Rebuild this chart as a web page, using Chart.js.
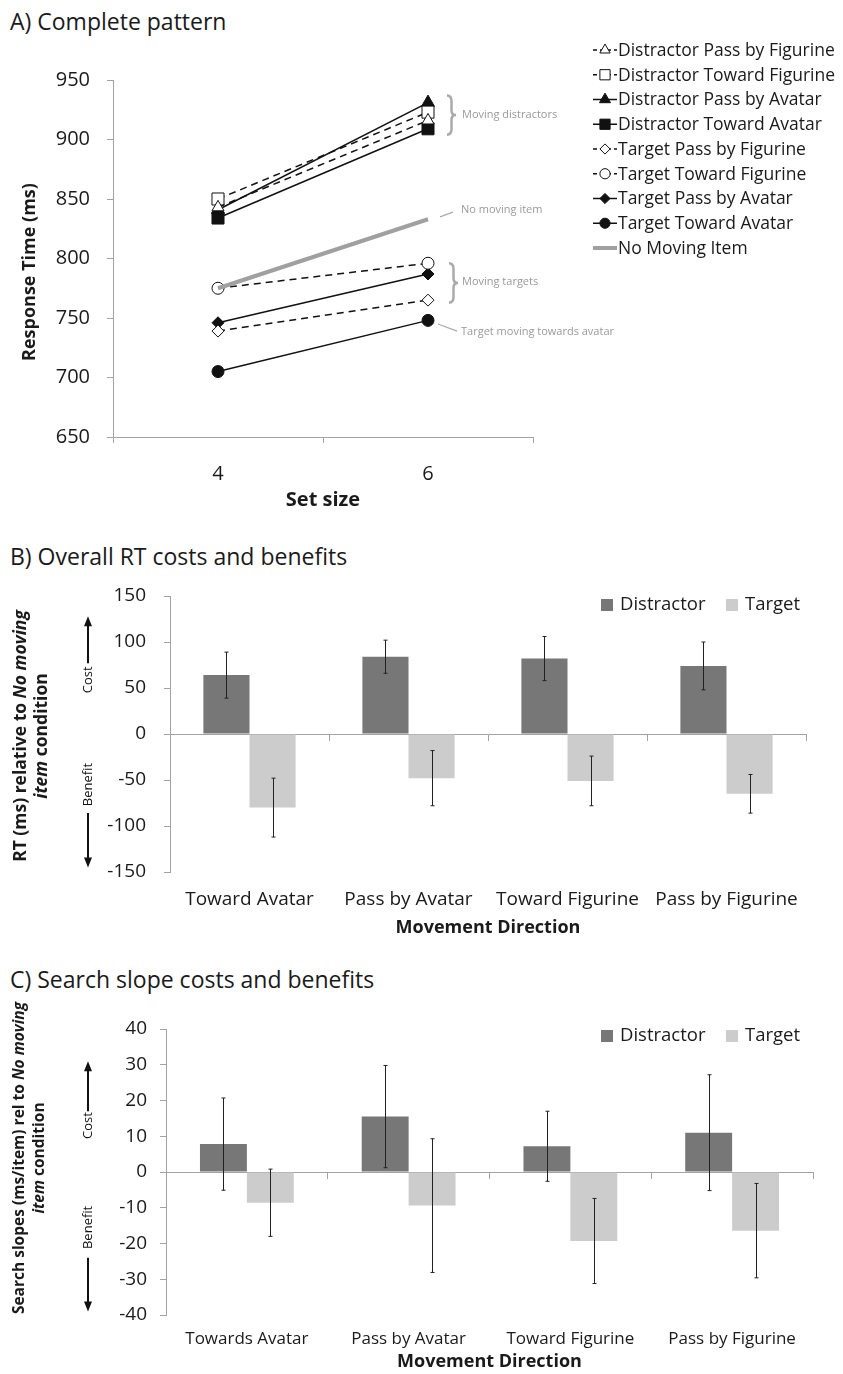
<!DOCTYPE html>
<html>
<head>
<meta charset="utf-8">
<script src="https://cdn.jsdelivr.net/npm/chart.js@4.4.1/dist/chart.umd.min.js"></script>
<style>
  body { margin: 0; background: #fff; width: 843px; height: 1374px; position: relative; overflow: hidden; font-family: 'Open Sans', sans-serif; }
  .ttl { position: absolute; left: 10px; font-size: 23px; line-height: 27px; color: #1a1a1a; white-space: nowrap; }
  canvas { position: absolute; left: 0; }
</style>
</head>
<body>
<div class="ttl" style="top:8px">A) Complete pattern</div>
<canvas id="chartA" width="843" height="530" style="top:0px"></canvas>
<div class="ttl" style="top:543px">B) Overall RT costs and benefits</div>
<canvas id="chartB" width="843" height="410" style="top:540px"></canvas>
<div class="ttl" style="top:966px">C) Search slope costs and benefits</div>
<canvas id="chartC" width="843" height="414" style="top:960px"></canvas>
<script>
// panel A - response times by set size
const setSizes = ['4', '6'];
const distPassFig = [843, 916];
const distTowardFig = [850, 923];
const distPassAv = [841, 931];
const distTowardAv = [834, 909];
const targPassFig = [739, 765];
const targTowardFig = [775, 796];
const targPassAv = [746, 787];
const targTowardAv = [705, 748];
const noMoving = [775, 833];

// panel B - RT relative to no moving item
const directionsB = ['Toward Avatar', 'Pass by Avatar', 'Toward Figurine', 'Pass by Figurine'];
const rtDistractor = [64, 84, 82, 74];
const rtTarget = [-80, -48, -51, -65];
const rtDistractorErr = [25, 18, 24, 26];
const rtTargetErr = [32, 30, 27, 21];

// panel C - search slopes relative to no moving item
const directionsC = ['Towards Avatar', 'Pass by Avatar', 'Toward Figurine', 'Pass by Figurine'];
const slopeDistractor = [7.8, 15.5, 7.2, 11];
const slopeTarget = [-8.6, -9.4, -19.3, -16.4];
const slopeDistractorErr = [12.9, 14.3, 9.8, 16.2];
const slopeTargetErr = [9.4, 18.7, 11.9, 13.2];

const ink = '#1a1a1a';
const axisGray = '#a3a3a3';
const noteGray = '#9a9a9a';
const darkBar = '#777777';
const lightBar = '#cbcccb';
const FAM = "'Open Sans', sans-serif";
Chart.defaults.font.family = FAM;

function lineSet(label, data, style, filled, dashed, r) {
    return {
        label: label, data: data, borderColor: '#111', borderWidth: 1.5,
        borderDash: dashed ? [7, 5] : [], pointStyle: style, pointRadius: r,
        pointBackgroundColor: filled ? '#111' : '#fff', pointBorderColor: '#111',
        pointBorderWidth: 1, order: 1
    };
}

const datasetsA = [
    lineSet('Distractor Pass by Figurine', distPassFig, 'triangle', false, true, 7),
    lineSet('Distractor Toward Figurine', distTowardFig, 'rect', false, true, 8.5),
    lineSet('Distractor Pass by Avatar', distPassAv, 'triangle', true, false, 7.5),
    lineSet('Distractor Toward Avatar', distTowardAv, 'rect', true, false, 8.5),
    lineSet('Target Pass by Figurine', targPassFig, 'rectRot', false, true, 6),
    lineSet('Target Toward Figurine', targTowardFig, 'circle', false, true, 6),
    lineSet('Target Pass by Avatar', targPassAv, 'rectRot', true, false, 6),
    lineSet('Target Toward Avatar', targTowardAv, 'circle', true, false, 6),
    { label: 'No Moving Item', data: noMoving, borderColor: '#a0a0a0', borderWidth: 4, pointRadius: 0, order: 0 }
];

function brace(ctx, x, y0, y1, w) {
    const ym = (y0 + y1) / 2, h = y1 - y0, xm = x + w / 2;
    ctx.beginPath();
    ctx.moveTo(x, y0);
    ctx.quadraticCurveTo(xm, y0, xm, y0 + h * 0.15);
    ctx.lineTo(xm, ym - h * 0.12);
    ctx.quadraticCurveTo(xm, ym, x + w, ym);
    ctx.quadraticCurveTo(xm, ym, xm, ym + h * 0.12);
    ctx.lineTo(xm, y1 - h * 0.15);
    ctx.quadraticCurveTo(xm, y1, x, y1);
    ctx.stroke();
}

function richText(ctx, parts, cx, cy, size) {
    ctx.save();
    ctx.translate(cx, cy); ctx.rotate(-Math.PI / 2);
    ctx.textBaseline = 'middle'; ctx.textAlign = 'left'; ctx.fillStyle = ink;
    const fnt = it => (it ? 'italic ' : '') + 'bold ' + size + 'px ' + FAM;
    let total = 0;
    parts.forEach(p => { ctx.font = fnt(p[1]); total += ctx.measureText(p[0]).width; });
    let x = -total / 2;
    parts.forEach(p => { ctx.font = fnt(p[1]); ctx.fillText(p[0], x, 0); x += ctx.measureText(p[0]).width; });
    ctx.restore();
}

const annotA = {
    id: 'annotA',
    afterDraw(chart) {
        const ctx = chart.ctx, ys = chart.scales.y, xs = chart.scales.x;
        const py = v => ys.getPixelForValue(v);
        const x0 = xs.getPixelForValue(1);
        ctx.save();
        ctx.strokeStyle = '#aaaaaa'; ctx.lineWidth = 2.5;
        brace(ctx, x0 + 19, py(937), py(904), 9);
        brace(ctx, x0 + 21, py(796), py(763), 9);
        ctx.lineWidth = 1.2;
        ctx.beginPath();
        ctx.moveTo(x0 + 12, py(835)); ctx.lineTo(x0 + 25, py(839));
        ctx.moveTo(x0 + 10, py(745)); ctx.lineTo(x0 + 29, py(739));
        ctx.stroke();
        ctx.fillStyle = noteGray; ctx.font = '11px ' + FAM; ctx.textBaseline = 'middle';
        ctx.fillText('Moving distractors', x0 + 34, py(921));
        ctx.fillText('No moving item', x0 + 33, py(841));
        ctx.fillText('Moving targets', x0 + 34, py(780));
        ctx.fillText('Target moving towards avatar', x0 + 33, py(738));
        ctx.restore();
        // y axis title, sitting a little below the plot centre as in the original
        richText(ctx, [['Response Time (ms)', false]], 30, 272, 18);
    }
};

const legendA = {
    id: 'legendA',
    afterDraw(chart) {
        const ctx = chart.ctx;
        ctx.save();
        chart.data.datasets.forEach((ds, i) => {
            const y = 50 + i * 24.75;
            ctx.strokeStyle = ds.borderColor;
            ctx.lineWidth = ds.borderWidth;
            ctx.setLineDash(ds.borderDash && ds.borderDash.length ? [4, 3] : []);
            ctx.beginPath(); ctx.moveTo(593, y); ctx.lineTo(617, y); ctx.stroke();
            ctx.setLineDash([]);
            if (ds.pointRadius > 0) {
                ctx.fillStyle = ds.pointBackgroundColor; ctx.strokeStyle = ds.pointBorderColor; ctx.lineWidth = 1;
                Chart.helpers.drawPoint(ctx, { pointStyle: ds.pointStyle, radius: ds.pointRadius * 0.85, rotation: 0, borderWidth: 1 }, 605, y);
            }
            ctx.fillStyle = ink; ctx.font = '17.5px ' + FAM; ctx.textBaseline = 'middle';
            ctx.fillText(ds.label, 618, y + 1);
        });
        ctx.restore();
    }
};

new Chart(document.getElementById('chartA'), {
    type: 'line',
    data: { labels: setSizes, datasets: datasetsA },
    options: {
        responsive: false, animation: false,
        layout: { padding: { top: 80, right: 310, left: 0, bottom: 0 } },
        plugins: { legend: { display: false }, tooltip: { enabled: false } },
        scales: {
            x: {
                offset: true,
                grid: { offset: true, drawOnChartArea: false, tickLength: 6, color: axisGray },
                border: { color: axisGray },
                ticks: { font: { size: 20 }, color: ink, padding: 19 },
                title: { display: true, text: 'Set size', font: { size: 20, weight: 'bold' }, color: ink, padding: { bottom: 18 } },
                afterFit: s => { s.height = 93; }
            },
            y: {
                min: 650, max: 950,
                ticks: { stepSize: 50, font: { size: 20 }, color: ink, padding: 17 },
                grid: { drawOnChartArea: false, tickLength: 6, color: axisGray },
                border: { color: axisGray },
                afterFit: s => { s.width = 113; }
            }
        }
    },
    plugins: [annotA, legendA]
});

// error bars for B and C
const errorBars = {
    id: 'errorBars',
    afterDatasetsDraw(chart) {
        const ctx = chart.ctx, ys = chart.scales.y;
        ctx.save();
        ctx.strokeStyle = '#222'; ctx.lineWidth = 1;
        chart.data.datasets.forEach((ds, di) => {
            chart.getDatasetMeta(di).data.forEach((bar, i) => {
                const t = ys.getPixelForValue(ds.data[i] + ds.err[i]);
                const b = ys.getPixelForValue(ds.data[i] - ds.err[i]);
                const x = Math.round(bar.x) + 0.5;
                ctx.beginPath();
                ctx.moveTo(x, t); ctx.lineTo(x, b);
                ctx.moveTo(x - 2, t); ctx.lineTo(x + 2, t);
                ctx.moveTo(x - 2, b); ctx.lineTo(x + 2, b);
                ctx.stroke();
            });
        });
        ctx.restore();
    }
};

function vArrow(ctx, x, yFrom, yTo) {
    const dir = yTo < yFrom ? -1 : 1;
    ctx.beginPath(); ctx.moveTo(x, yFrom); ctx.lineTo(x, yTo - dir * 8); ctx.stroke();
    ctx.beginPath(); ctx.moveTo(x, yTo); ctx.lineTo(x - 4, yTo - dir * 10); ctx.lineTo(x + 4, yTo - dir * 10); ctx.closePath(); ctx.fill();
}

function sidePlugin(cfg) {
    return {
        id: 'side',
        afterDraw(chart) {
            const ctx = chart.ctx, ys = chart.scales.y;
            const py = v => ys.getPixelForValue(v);
            // y title on two lines
            richText(ctx, cfg.line1, cfg.titleX[0], cfg.titleY, cfg.titleSize);
            richText(ctx, cfg.line2, cfg.titleX[1], cfg.titleY, cfg.titleSize);
            // cost / benefit
            ctx.save();
            ctx.strokeStyle = '#111'; ctx.fillStyle = '#111'; ctx.lineWidth = 2;
            vArrow(ctx, 88, py(cfg.arrowUp[0]), py(cfg.arrowUp[1]));
            vArrow(ctx, 88, py(cfg.arrowDown[0]), py(cfg.arrowDown[1]));
            ctx.font = '13px ' + FAM; ctx.textAlign = 'center'; ctx.textBaseline = 'middle';
            ctx.translate(88, 0);
            [['Cost', cfg.costAt], ['Benefit', cfg.benefitAt]].forEach(t => {
                ctx.save(); ctx.translate(0, py(t[1])); ctx.rotate(-Math.PI / 2); ctx.fillText(t[0], 0, 0); ctx.restore();
            });
            ctx.restore();
            // legend
            ctx.save();
            ctx.font = '18.5px ' + FAM; ctx.textBaseline = 'middle';
            chart.data.datasets.forEach((ds, i) => {
                const x = [601, 726][i];
                ctx.fillStyle = ds.backgroundColor;
                ctx.fillRect(x, cfg.legendY - 6, 12, 12);
                ctx.fillStyle = ink;
                ctx.fillText(ds.label, x + 19, cfg.legendY);
            });
            ctx.restore();
        }
    };
}

function barChart(id, labels, dVals, dErr, tVals, tErr, yCfg, box, side) {
    return new Chart(document.getElementById(id), {
        type: 'bar',
        data: {
            labels: labels,
            datasets: [
                { label: 'Distractor', data: dVals, err: dErr, backgroundColor: darkBar },
                { label: 'Target', data: tVals, err: tErr, backgroundColor: lightBar }
            ]
        },
        options: {
            responsive: false, animation: false,
            categoryPercentage: 0.58, barPercentage: 1.0,
            layout: { padding: { top: box.top, right: box.right, left: 0, bottom: 0 } },
            plugins: { legend: { display: false }, tooltip: { enabled: false } },
            scales: {
                x: {
                    position: { y: 0 }, offset: true,
                    grid: { offset: true, drawOnChartArea: false, tickLength: 6, color: axisGray },
                    border: { color: axisGray },
                    ticks: { display: false }
                },
                x2: {
                    type: 'category', position: 'bottom', labels: labels, offset: true,
                    grid: { display: false, drawTicks: false },
                    border: { display: false },
                    ticks: { font: { size: box.labelSize }, color: ink, padding: box.labelPad },
                    title: { display: true, text: 'Movement Direction', font: { size: 18, weight: 'bold' }, color: ink, padding: { bottom: box.titlePad } },
                    afterFit: s => { s.height = box.xHeight; }
                },
                y: {
                    min: yCfg.min, max: yCfg.max,
                    ticks: { stepSize: yCfg.step, font: { size: 19 }, color: ink, padding: box.tickPad },
                    grid: { drawOnChartArea: false, tickLength: 6, color: axisGray },
                    border: { color: axisGray },
                    afterFit: s => { s.width = box.left; }
                }
            }
        },
        plugins: [errorBars, sidePlugin(side)]
    });
}

barChart('chartB', directionsB, rtDistractor, rtDistractorErr, rtTarget, rtTargetErr,
    { min: -150, max: 150, step: 50 },
    { top: 56, right: 37, left: 170, xHeight: 78, labelSize: 19, labelPad: 16, titlePad: 11, tickPad: 18 },
    {
        line1: [['RT (ms) relative to ', false], ['No moving', true]],
        line2: [['item', true], [' condition', false]],
        titleX: [21, 42], titleY: 196, titleSize: 17.5,
        arrowUp: [77, 128], arrowDown: [-86, -145], costAt: 59, benefitAt: -55, legendY: 65
    });

barChart('chartC', directionsC, slopeDistractor, slopeDistractorErr, slopeTarget, slopeTargetErr,
    { min: -40, max: 40, step: 10 },
    { top: 69, right: 30, left: 166, xHeight: 59, labelSize: 17, labelPad: 14, titlePad: 1, tickPad: 13 },
    {
        line1: [['Search slopes (ms/item) rel to ', false], ['No moving', true]],
        line2: [['item', true], [' condition', false]],
        titleX: [20, 40], titleY: 198, titleSize: 15.5,
        arrowUp: [17, 31], arrowDown: [-24, -39], costAt: 13, benefitAt: -15.5, legendY: 76
    });
</script>
</body>
</html>
